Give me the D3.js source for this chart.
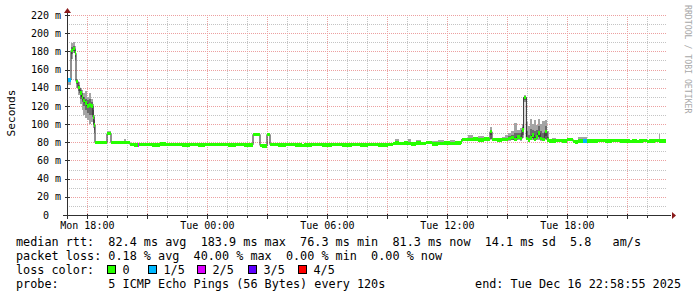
<!DOCTYPE html>
<html><head><meta charset="utf-8">
<script src="https://cdn.jsdelivr.net/npm/d3@7"></script>
<style>
html,body{margin:0;padding:0;background:#fff;}
svg{display:block;}
text{font-family:"DejaVu Sans Mono",monospace;white-space:pre;}
</style>
</head><body>
<svg id="c" width="697" height="297"></svg>
<script>
// ---- data ----
const startTime = new Date(2025, 11, 15, 16, 58, 55);
const endTime   = new Date(2025, 11, 16, 22, 58, 55);
// minutes since start of each 2-min step (step holds until next entry)
const minutes = [0,12,18,24,27,33,39,44,48,54,60,66,72,78,81,84,102,120,132,153,171,177,189,201,213,216,237,255,279,297,324,345,369,393,414,435,459,483,507,531,558,579,585,600,609,633,657,684,705,711,735,765,795,825,855,879,903,933,963,978,984,996,1011,1023,1032,1047,1062,1077,1095,1113,1131,1149,1164,1182,1185,1203,1218,1233,1251,1266,1269,1275,1290,1305,1314,1323,1332,1341,1350,1359,1365,1370,1378,1383,1389,1395,1401,1407,1413,1419,1425,1434,1440,1446,1455,1467,1485,1500,1518,1524,1533,1548,1560,1569,1593,1614,1635,1659,1689,1695,1710,1716,1728,1740,1746,1764,1776,1779,1797];
const median = [148.5,181,183,178,147,140,134,130,126,123,120,121,120,108,99,79.5,79.8,89.5,79.5,79.8,79.5,79.8,77.5,77.0,77.2,77.3,77.8,77.2,77.9,77.3,77.7,77.1,77.6,77.2,77.8,77.3,77.7,77.0,77.6,77.2,88.7,76.5,76.0,88.7,77.3,77.0,77.3,77.0,76.3,77.0,77.3,77.0,77.4,77.0,77.3,77.2,77.4,77.0,77.5,78.8,79.0,78.5,79.2,78.8,78.0,79.3,78.4,79.5,78.0,78.6,79.4,78.6,79.0,80.5,83.2,82.8,83.6,82.6,83.4,82.8,91.6,83.0,82.5,83.2,83,84,85,83,86,84,93.5,129.4,84,82.5,84.7,88,83,86,90,84,83,91.6,82.5,81.5,81.2,81.8,81.3,83.2,81.0,80.2,81.4,81.4,81.6,81.5,82.0,81.4,81.8,81.3,80.6,81.4,80.6,81.5,81.8,80.7,81.4,81.8,81.4,81.3,81.3];
const smokeMin = [143,172,178,170,140,132,122,116,110,107,104,100,102,96,90,null,null,88,null,null,79,null,null,null,null,null,null,null,null,null,null,null,null,null,null,null,null,null,null,null,null,null,null,null,null,null,null,null,null,76.5,null,null,null,null,null,77,77,null,77,78,78,null,null,78,null,78.5,null,79,77.5,78,null,78,null,79,82,82,83,82,82.5,82,84,82,null,82,81,81,82,81,82,81,85,124,82,81,82,83,81,82,83,81,81,84,81,80.5,80.5,null,null,82,null,null,80.5,80.5,null,null,null,null,81,null,null,null,null,null,81,null,null,null,81,null,null];
const smokeMax = [151,189,190,186,150,146,140,138,134,136,130,134,128,122,110,null,null,92,null,null,84,null,null,null,null,null,null,null,null,null,null,null,null,null,null,null,null,null,null,null,null,null,null,null,null,null,null,null,null,79.5,null,null,null,null,null,79,79,null,79,80,83.5,null,null,83.5,null,82,null,80.5,81.5,82,null,82,null,84,85,88,85,86.5,86,85,97,85,null,86,88,90,92,101,94,96,100,132,102,98,106,100,104,99,106,100,103,104,92,84,84.7,null,null,84,null,null,86,86,null,null,null,null,84,null,null,null,null,null,84,null,null,null,89,null,null];
const smokeMidLo = [146,177,180,174,144,136,128,124,120,116,112,110,110,100,94,null,null,null,null,null,null,null,null,null,null,null,null,null,null,null,null,null,null,null,null,null,null,null,null,null,null,null,null,null,null,null,null,null,null,null,null,null,null,null,null,null,null,null,null,null,null,null,null,null,null,null,null,null,null,null,null,null,null,null,null,null,null,null,null,null,88,null,null,null,82,82,83,82,84,82,88,127,83,82,83,85,82,84,86,82,82,87,82,null,null,null,null,null,null,null,null,null,null,null,null,null,null,null,null,null,null,null,null,null,null,null,null,null,null];
const smokeMidHi = [150,185,186,182,149,143,138,134,130,128,126,128,124,116,104,null,null,null,null,null,null,null,null,null,null,null,null,null,null,null,null,null,null,null,null,null,null,null,null,null,null,null,null,null,null,null,null,null,null,null,null,null,null,null,null,null,null,null,null,null,null,null,null,null,null,null,null,null,null,null,null,null,null,null,null,null,null,null,null,null,94,null,null,null,85,87,88,90,90,90,97,131,92,88,95,94,92,93,98,92,90,98,86,null,null,null,null,null,null,null,null,null,null,null,null,null,null,null,null,null,null,null,null,null,null,null,null,null,null];
// lost pings out of 5 for each step
const loss = [1,0,0,0,0,0,0,0,0,0,0,0,0,0,0,0,0,0,0,0,0,0,0,0,2,0,0,0,0,0,0,0,0,0,0,0,0,0,0,0,0,0,0,0,0,0,0,0,0,0,0,0,0,0,0,0,0,0,0,0,0,0,0,0,0,0,0,0,0,0,0,0,0,0,0,0,0,0,0,0,0,0,0,0,0,0,0,0,0,0,0,0,0,0,0,0,0,0,0,0,0,0,0,0,0,0,0,0,0,0,0,1,0,0,0,0,0,0,0,0,0,0,0,0,0,0,0,0,0];

const yTickValues = [0,20,40,60,80,100,120,140,160,180,200,220];
const yTickLabels = ["0  ","20 m","40 m","60 m","80 m","100 m","120 m","140 m","160 m","180 m","200 m","220 m"];
const lossLabels = ["0","1/5","2/5","3/5","4/5"];
const lossColors = ["#26ff00","#00b8ff","#dd00ff","#5e00ff","#ff0000"];
const statsLines = [
  "median rtt:  82.4 ms avg  183.9 ms max  76.3 ms min  81.3 ms now  14.1 ms sd  5.8   am/s",
  "packet loss: 0.18 % avg  40.00 % max  0.00 % min  0.00 % now"
];
const lossTitle = "loss color:";
const probeText = "probe:       5 ICMP Echo Pings (56 Bytes) every 120s";
const endText = "end: Tue Dec 16 22:58:55 2025";
const yTitle = "Seconds";
const watermark = "RRDTOOL / TOBI OETIKER";

// ---- drawing ----
const svg = d3.select("#c");
const x = d3.scaleTime().domain([startTime, endTime]).range([67, 667]);
const y = d3.scaleLinear().domain([0, 220]).range([215, 15]);
const px = v => Math.round(v) + 0.5;
const tOf = i => new Date(startTime.getTime() + minutes[i] * 60000);

const grid = svg.append("g").attr("shape-rendering", "crispEdges");
d3.range(10, 221, 20).forEach(v => {
  grid.append("line").attr("x1", 67).attr("x2", 667).attr("y1", px(y(v))).attr("y2", px(y(v)))
    .attr("stroke", "#c4c4c4").attr("stroke-dasharray", "1,1");
});
const hours = d3.timeHour.every(1).range(startTime, endTime);
hours.filter(h => h.getHours() % 3 !== 0).forEach(h => {
  grid.append("line").attr("x1", px(x(h))).attr("x2", px(x(h))).attr("y1", 15).attr("y2", 215)
    .attr("stroke", "#c4c4c4").attr("stroke-dasharray", "1,1");
});
yTickValues.forEach(v => {
  grid.append("line").attr("x1", 67).attr("x2", 667).attr("y1", px(y(v))).attr("y2", px(y(v)))
    .attr("stroke", "#eca0a0").attr("stroke-dasharray", "1,1");
});
hours.filter(h => h.getHours() % 3 === 0).forEach(h => {
  grid.append("line").attr("x1", px(x(h))).attr("x2", px(x(h))).attr("y1", 15).attr("y2", 215)
    .attr("stroke", "#eca0a0").attr("stroke-dasharray", "1,1");
});

// smoke
const smoke = svg.append("g").attr("shape-rendering", "crispEdges");
const n = minutes.length;
for (let i = 0; i < n - 1; i++) {
  if (smokeMax[i] != null) {
    smoke.append("rect").attr("x", x(tOf(i))).attr("width", Math.max(1, x(tOf(i+1)) - x(tOf(i))))
      .attr("y", y(smokeMax[i])).attr("height", y(smokeMin[i]) - y(smokeMax[i])).attr("fill", "#a4a4a4");
  }
}
for (let i = 0; i < n - 1; i++) {
  if (smokeMidHi[i] != null) {
    smoke.append("rect").attr("x", x(tOf(i))).attr("width", Math.max(1, x(tOf(i+1)) - x(tOf(i))))
      .attr("y", y(smokeMidHi[i])).attr("height", y(smokeMidLo[i]) - y(smokeMidHi[i])).attr("fill", "#6a6a6a");
  }
}
// median line
const line = d3.line().x((d, i) => x(tOf(i))).y(d => y(d)).curve(d3.curveStepAfter);
svg.append("path").datum(median).attr("d", line).attr("fill", "none")
  .attr("stroke", "#202020").attr("stroke-width", 1);
// loss coloured band (on top of the median line)
const band = svg.append("g").attr("shape-rendering", "crispEdges");
for (let i = 0; i < n - 1; i++) {
  band.append("rect").attr("x", x(tOf(i))).attr("width", x(tOf(i+1)) - x(tOf(i)))
    .attr("y", y(median[i]) - 1.7).attr("height", 3.4).attr("fill", lossColors[loss[i]]);
}

// axes
const axisCol = "#303030", arrowCol = "#8b1a1a";
const ax = svg.append("g").attr("shape-rendering", "crispEdges");
ax.append("line").attr("x1", 63).attr("x2", 671).attr("y1", px(y(0))).attr("y2", px(y(0))).attr("stroke", axisCol);
ax.append("line").attr("x1", px(67)).attr("x2", px(67)).attr("y1", 219).attr("y2", 12).attr("stroke", axisCol);
yTickValues.forEach(v => {
  ax.append("line").attr("x1", 65).attr("x2", 70).attr("y1", px(y(v))).attr("y2", px(y(v))).attr("stroke", axisCol);
});
hours.forEach(h => {
  const major = h.getHours() % 3 === 0;
  ax.append("line").attr("x1", px(x(h))).attr("x2", px(x(h)))
    .attr("y1", px(y(0)) - (major ? 2 : 1)).attr("y2", px(y(0)) + (major ? 3 : 2)).attr("stroke", axisCol);
});
svg.append("path").attr("d", `M672,${px(y(0))-3.5}L676,${px(y(0))}L672,${px(y(0))+3.5}Z`).attr("fill", arrowCol);
svg.append("path").attr("d", `M${px(67)-3.5},13L${px(67)},8L${px(67)+3.5},13Z`).attr("fill", arrowCol);

yTickValues.forEach((v, i) => {
  svg.append("text").attr("x", 61).attr("y", y(v) + 3.6).attr("text-anchor", "end")
    .attr("font-size", "10px").attr("fill", "#000").text(yTickLabels[i]);
});
const fmt = d3.timeFormat("%a %H:%M");
hours.filter(h => h.getHours() % 6 === 0).forEach(h => {
  svg.append("text").attr("x", x(h)).attr("y", 228.5).attr("text-anchor", "middle")
    .attr("font-size", "10px").attr("fill", "#000").text(fmt(h));
});
svg.append("text").attr("transform", "translate(15,113) rotate(-90)").attr("text-anchor", "middle")
  .attr("font-size", "11.2px").attr("fill", "#000").text(yTitle);
svg.append("text").attr("transform", "translate(685,5) rotate(90)").attr("text-anchor", "start")
  .attr("font-size", "8.2px").attr("fill", "#a8a8a8").text(watermark);

const lf = "11.8px";
statsLines.forEach((s, i) => {
  svg.append("text").attr("x", 16).attr("y", 245.5 + i * 14).attr("font-size", lf).attr("fill", "#000").text(s);
});
svg.append("text").attr("x", 16).attr("y", 273.5).attr("font-size", lf).attr("fill", "#000").text(lossTitle);
const boxX = [107.5, 148.5, 197.5, 248.5, 298.5];
lossLabels.forEach((l, i) => {
  svg.append("rect").attr("x", boxX[i]).attr("y", 265.5).attr("width", 8).attr("height", 8)
    .attr("fill", lossColors[i]).attr("stroke", "#000").attr("stroke-width", 1);
  svg.append("text").attr("x", boxX[i] + 15).attr("y", 273.5).attr("font-size", lf).attr("fill", "#000").text(l);
});
svg.append("text").attr("x", 16).attr("y", 287.5).attr("font-size", lf).attr("fill", "#000").text(probeText);
svg.append("text").attr("x", 681).attr("y", 287.5).attr("text-anchor", "end").attr("font-size", lf).attr("fill", "#000").text(endText);
</script>
</body></html>
